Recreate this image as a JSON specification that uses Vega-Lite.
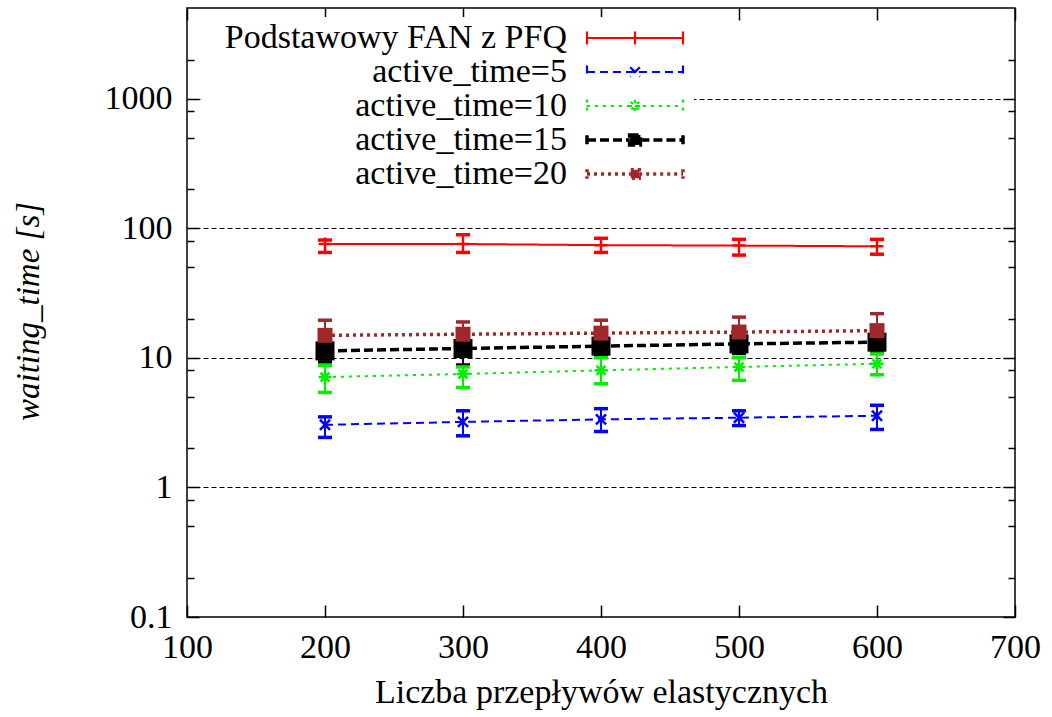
{
  "$schema": "https://vega.github.io/schema/vega-lite/v6.json",
  "width": 828,
  "height": 609,
  "autosize": {"type": "none"},
  "padding": {"left": 187, "top": 8, "right": 37, "bottom": 100},
  "background": "white",
  "config": {
    "font": "Liberation Serif",
    "view": {"stroke": "black", "strokeWidth": 1.5},
    "axis": {
      "labelFont": "Liberation Serif",
      "titleFont": "Liberation Serif",
      "labelFontSize": 34,
      "titleFontSize": 34,
      "titleFontWeight": "normal",
      "labelColor": "black",
      "titleColor": "black",
      "tickColor": "black",
      "tickWidth": 1.5,
      "domain": false
    }
  },
  "data": {
    "values": [
      {"series": "Podstawowy FAN z PFQ", "n": 200, "value": 75.6, "lo": 65, "hi": 81},
      {"series": "Podstawowy FAN z PFQ", "n": 300, "value": 75.5, "lo": 65, "hi": 89},
      {"series": "Podstawowy FAN z PFQ", "n": 400, "value": 74, "lo": 65, "hi": 83.6},
      {"series": "Podstawowy FAN z PFQ", "n": 500, "value": 73.4, "lo": 62, "hi": 82},
      {"series": "Podstawowy FAN z PFQ", "n": 600, "value": 72.5, "lo": 63, "hi": 82},
      {"series": "active_time=5", "n": 200, "value": 3.04, "lo": 2.43, "hi": 3.5},
      {"series": "active_time=5", "n": 300, "value": 3.2, "lo": 2.5, "hi": 3.9},
      {"series": "active_time=5", "n": 400, "value": 3.35, "lo": 2.7, "hi": 4.05},
      {"series": "active_time=5", "n": 500, "value": 3.45, "lo": 3.0, "hi": 3.9},
      {"series": "active_time=5", "n": 600, "value": 3.57, "lo": 2.8, "hi": 4.3},
      {"series": "active_time=10", "n": 200, "value": 7.1, "lo": 5.4, "hi": 8.7},
      {"series": "active_time=10", "n": 300, "value": 7.5, "lo": 5.9, "hi": 8.5},
      {"series": "active_time=10", "n": 400, "value": 8.0, "lo": 6.3, "hi": 10},
      {"series": "active_time=10", "n": 500, "value": 8.5, "lo": 6.7, "hi": 10},
      {"series": "active_time=10", "n": 600, "value": 9.0, "lo": 7.4, "hi": 10.7},
      {"series": "active_time=15", "n": 200, "value": 11.3, "lo": 9.3, "hi": 13.2},
      {"series": "active_time=15", "n": 300, "value": 11.8, "lo": 8.8, "hi": 14},
      {"series": "active_time=15", "n": 400, "value": 12.3, "lo": 10.2, "hi": 14.3},
      {"series": "active_time=15", "n": 500, "value": 12.8, "lo": 10.8, "hi": 14.8},
      {"series": "active_time=15", "n": 600, "value": 13.2, "lo": 11, "hi": 15.2},
      {"series": "active_time=20", "n": 200, "value": 14.9, "lo": 10.7, "hi": 19.5},
      {"series": "active_time=20", "n": 300, "value": 15.2, "lo": 11.7, "hi": 18.9},
      {"series": "active_time=20", "n": 400, "value": 15.5, "lo": 11, "hi": 19.5},
      {"series": "active_time=20", "n": 500, "value": 15.8, "lo": 11.7, "hi": 20.6},
      {"series": "active_time=20", "n": 600, "value": 16.2, "lo": 11.3, "hi": 21.9}
    ]
  },
  "layer": [
    {
      "mark": {"type": "line", "clip": true},
      "encoding": {
        "x": {
          "field": "n", "type": "quantitative",
          "scale": {"domain": [100, 700], "nice": false, "zero": false},
          "axis": {
            "orient": "bottom",
            "values": [100, 200, 300, 400, 500, 600, 700],
            "title": "Liczba przepływów elastycznych",
            "tickSize": -12,
            "labelPadding": 52,
            "labelBaseline": "alphabetic",
            "labelFlush": false,
            "grid": false,
            "titleBaseline": "alphabetic",
            "titleY": 85
          }
        },
        "y": {
          "field": "value", "type": "quantitative",
          "scale": {"type": "log", "domain": [0.1, 5000], "nice": false},
          "axis": {
            "orient": "left",
            "values": [0.1, 0.2, 0.5, 0.8, 1, 2, 5, 8, 10, 20, 50, 80, 100, 200, 500, 800, 1000, 2000],
            "labelExpr": "(datum.value==0.1||datum.value==1||datum.value==10||datum.value==100||datum.value==1000) ? format(datum.value, '~g') : ''",
            "tickSize": {"condition": {"test": "datum.value==0.1||datum.value==1||datum.value==10||datum.value==100||datum.value==1000", "value": -12}, "value": -7},
            "labelPadding": 27,
            "labelFlush": false,
            "labelOverlap": false,
            "grid": true,
            "gridColor": "black",
            "gridDash": [5, 3],
            "gridWidth": 1,
            "gridOpacity": {"condition": {"test": "datum.value==1||datum.value==10||datum.value==100||datum.value==1000", "value": 1}, "value": 0},
            "title": "waiting_time [s]",
            "titleFontStyle": "italic",
            "titleFontSize": 33,
            "titleAngle": -90,
            "titleBaseline": "alphabetic",
            "titleAlign": "center",
            "titleX": -149,
            "titleY": 303
          }
        },
        "color": {
          "field": "series", "type": "nominal",
          "scale": {
            "domain": ["Podstawowy FAN z PFQ", "active_time=5", "active_time=10", "active_time=15", "active_time=20"],
            "range": ["#ff0000", "#0000ff", "#00ee00", "#000000", "#a0282a"]
          },
          "legend": {
            "orient": "none",
            "legendX": 14,
            "legendY": 9,
            "title": null,
            "symbolType": "M-4,0H4",
            "symbolSize": 576,
            "symbolStrokeWidth": 3,
            "symbolOffset": 413,
            "labelAlign": "right",
            "labelOffset": -85,
            "labelFontSize": 34,
            "labelFont": "Liberation Serif",
            "labelColor": "black",
            "labelLimit": 0,
            "rowPadding": -8,
            "fillColor": "white",
            "padding": 4,
            "encode": {
              "symbols": {
                "update": {
                  "strokeWidth": {"signal": "datum.value=='active_time=15'||datum.value=='active_time=20' ? 3.5 : 2.2"},
                  "fill": {"signal": "scale('color', datum.value)"},
                  "shape": {"signal": "datum.value=='Podstawowy FAN z PFQ' ? 'M-4,0H4M-4,-0.55V0.55M4,-0.55V0.55M0,-0.55V0.55' : datum.value=='active_time=5' ? 'M-4,0H4M-4,-0.55V0.55M4,-0.55V0.55M-0.4,-0.4L0.4,0.4M0.4,-0.4L-0.4,0.4' : datum.value=='active_time=10' ? 'M-4,0H4M-4,-0.55V0.55M4,-0.55V0.55M-0.5,0H0.5M0,-0.5V0.5M-0.35,-0.35L0.35,0.35M0.35,-0.35L-0.35,0.35' : datum.value=='active_time=15' ? 'M-4,0H-0.45M0.45,0H4M-4,-0.4V0.4M4,-0.4V0.4M-0.45,-0.42H0.45V0.42H-0.45Z' : 'M-4,0H-0.35M0.35,0H4M-4,-0.4V0.4M4,-0.4V0.4M-0.35,-0.35H0.35V0.35H-0.35Z'"}
                }
              }
            }
          }
        },
        "strokeDash": {
          "field": "series", "type": "nominal",
          "scale": {
            "domain": ["Podstawowy FAN z PFQ", "active_time=5", "active_time=10", "active_time=15", "active_time=20"],
            "range": [[1, 0], [8, 5], [3, 5], [9, 4], [3, 4]]
          }
        },
        "strokeWidth": {
          "condition": {"test": "datum.series=='active_time=15'||datum.series=='active_time=20'", "value": 3.5},
          "value": 2
        }
      }
    },
    {
      "mark": {"type": "rule", "strokeWidth": 2},
      "encoding": {
        "x": {"field": "n", "type": "quantitative", "axis": null},
        "y": {"field": "lo", "type": "quantitative", "axis": null},
        "y2": {"field": "hi"},
        "color": {"field": "series", "type": "nominal", "legend": null}
      }
    },
    {
      "mark": {"type": "point", "shape": "stroke", "size": 196, "strokeWidth": 3.5, "filled": false, "opacity": 1},
      "encoding": {
        "x": {"field": "n", "type": "quantitative", "axis": null},
        "y": {"field": "lo", "type": "quantitative", "axis": null},
        "color": {"field": "series", "type": "nominal", "legend": null}
      }
    },
    {
      "mark": {"type": "point", "shape": "stroke", "size": 196, "strokeWidth": 3.5, "filled": false, "opacity": 1},
      "encoding": {
        "x": {"field": "n", "type": "quantitative", "axis": null},
        "y": {"field": "hi", "type": "quantitative", "axis": null},
        "color": {"field": "series", "type": "nominal", "legend": null}
      }
    },
    {
      "transform": [{"filter": "datum.series == 'active_time=5' || datum.series == 'active_time=10' || datum.series == 'Podstawowy FAN z PFQ'"}],
      "mark": {"type": "point", "filled": false, "strokeWidth": 2.5, "opacity": 1, "size": 160},
      "encoding": {
        "x": {"field": "n", "type": "quantitative", "axis": null},
        "y": {"field": "value", "type": "quantitative", "axis": null},
        "color": {"field": "series", "type": "nominal", "legend": null},
        "shape": {
          "field": "series", "type": "nominal",
          "scale": {
            "domain": ["Podstawowy FAN z PFQ", "active_time=5", "active_time=10"],
            "range": ["M-1,0L1,0M0,-1L0,1", "M-0.8,-0.8L0.8,0.8M0.8,-0.8L-0.8,0.8", "M-1,0L1,0M0,-1L0,1M-0.7,-0.7L0.7,0.7M0.7,-0.7L-0.7,0.7"]
          },
          "legend": null
        }
      }
    },
    {
      "transform": [{"filter": "datum.series == 'active_time=15' || datum.series == 'active_time=20'"}],
      "mark": {"type": "point", "shape": "square", "filled": true, "opacity": 1},
      "encoding": {
        "x": {"field": "n", "type": "quantitative", "axis": null},
        "y": {"field": "value", "type": "quantitative", "axis": null},
        "color": {"field": "series", "type": "nominal", "legend": null},
        "size": {"condition": {"test": "datum.series=='active_time=15'", "value": 361}, "value": 225}
      }
    },
    {
      "mark": {"type": "point", "opacity": 0},
      "encoding": {
        "x": {
          "field": "n", "type": "quantitative",
          "axis": {"orient": "top", "values": [100, 200, 300, 400, 500, 600, 700], "tickSize": -12, "labels": false, "title": null, "grid": false}
        },
        "y": {
          "field": "value", "type": "quantitative",
          "axis": {
            "orient": "right",
            "values": [0.1, 0.2, 0.5, 0.8, 1, 2, 5, 8, 10, 20, 50, 80, 100, 200, 500, 800, 1000, 2000],
            "tickSize": {"condition": {"test": "datum.value==0.1||datum.value==1||datum.value==10||datum.value==100||datum.value==1000", "value": -12}, "value": -7},
            "labels": false, "title": null, "grid": false
          }
        }
      }
    }
  ],
  "resolve": {"axis": {"x": "independent", "y": "independent"}}
}
